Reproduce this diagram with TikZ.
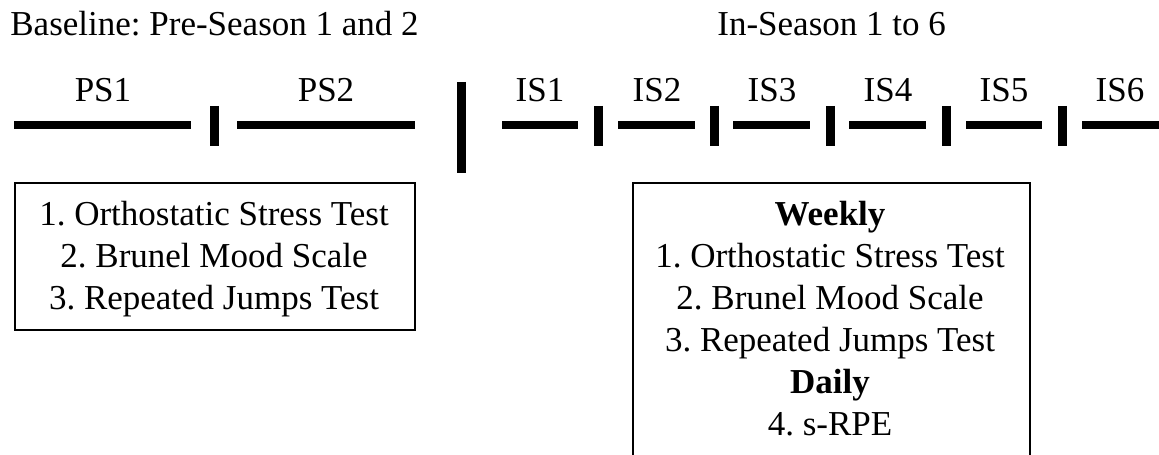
\documentclass[tikz,border=0pt]{standalone}
\usepackage{fontspec}
\setmainfont{Liberation Serif}
\frenchspacing
\begin{document}
\begin{tikzpicture}[x=0.5pt, y=-0.5pt,
    period/.style={line width=4pt},
    divider/.style={line width=4.5pt},
    phasetext/.style={inner sep=0pt, anchor=base, font=\fontsize{17.5}{21}\selectfont},
    listbox/.style={rectangle, draw, line width=1pt, inner sep=0pt, anchor=north west}]
  \useasboundingbox (0,0) rectangle (1159,454);
  \clip (0,0) rectangle (1159,454);

  \begin{scope}
    \node [phasetext, anchor=base west] (baseline) at (10,36) {Baseline: Pre-Season 1 and 2};
    \node [phasetext, anchor=base west] (inseason) at (717,36) {In-Season 1 to 6};
  \end{scope}

  \begin{scope}
    \node [phasetext] (ps1) at (103,102) {PS1};
    \node [phasetext] (ps2) at (326,102) {PS2};
    \node [phasetext] (is1) at (540,102) {IS1};
    \node [phasetext] (is2) at (657,102) {IS2};
    \node [phasetext] (is3) at (772,102) {IS3};
    \node [phasetext] (is4) at (888,102) {IS4};
    \node [phasetext] (is5) at (1004,102) {IS5};
    \node [phasetext] (is6) at (1120,102) {IS6};
  \end{scope}

  \begin{scope}
    \draw [period] (14,125) -- (191,125);
    \draw [divider] (214,106) -- (214,146);
    \draw [period] (237,125) -- (415,125);
    \draw [divider] (461,82) -- (461,173);
    \draw [period] (502,125) -- (578,125);
    \draw [divider] (598,106) -- (598,146);
    \draw [period] (618,125) -- (695,125);
    \draw [divider] (714,106) -- (714,146);
    \draw [period] (733,125) -- (810,125);
    \draw [divider] (830,106) -- (830,146);
    \draw [period] (849,125) -- (926,125);
    \draw [divider] (946,106) -- (946,146);
    \draw [period] (966,125) -- (1042,125);
    \draw [divider] (1062,106) -- (1062,146);
    \draw [period] (1082,125) -- (1159,125);
  \end{scope}

  \begin{scope}
    \node [listbox, minimum width=200pt, minimum height=73.5pt] (pretests) at (14,182) {};
    \node [phasetext] (pre1) at (214,225) {1. Orthostatic Stress Test};
    \node [phasetext] (pre2) at (214,267) {2. Brunel Mood Scale};
    \node [phasetext] (pre3) at (214,309) {3. Repeated Jumps Test};
  \end{scope}

  \begin{scope}
    \node [listbox, minimum width=198.5pt, minimum height=200pt] (intests) at (632,182) {};
    \node [phasetext, font=\fontsize{17.5}{21}\selectfont\bfseries] (weekly) at (830,225) {Weekly};
    \node [phasetext] (in1) at (830,267) {1. Orthostatic Stress Test};
    \node [phasetext] (in2) at (830,309) {2. Brunel Mood Scale};
    \node [phasetext] (in3) at (830,351) {3. Repeated Jumps Test};
    \node [phasetext, font=\fontsize{17.5}{21}\selectfont\bfseries] (daily) at (830,393) {Daily};
    \node [phasetext] (in4) at (830,435) {4. s-RPE};
  \end{scope}
\end{tikzpicture}
\end{document}
